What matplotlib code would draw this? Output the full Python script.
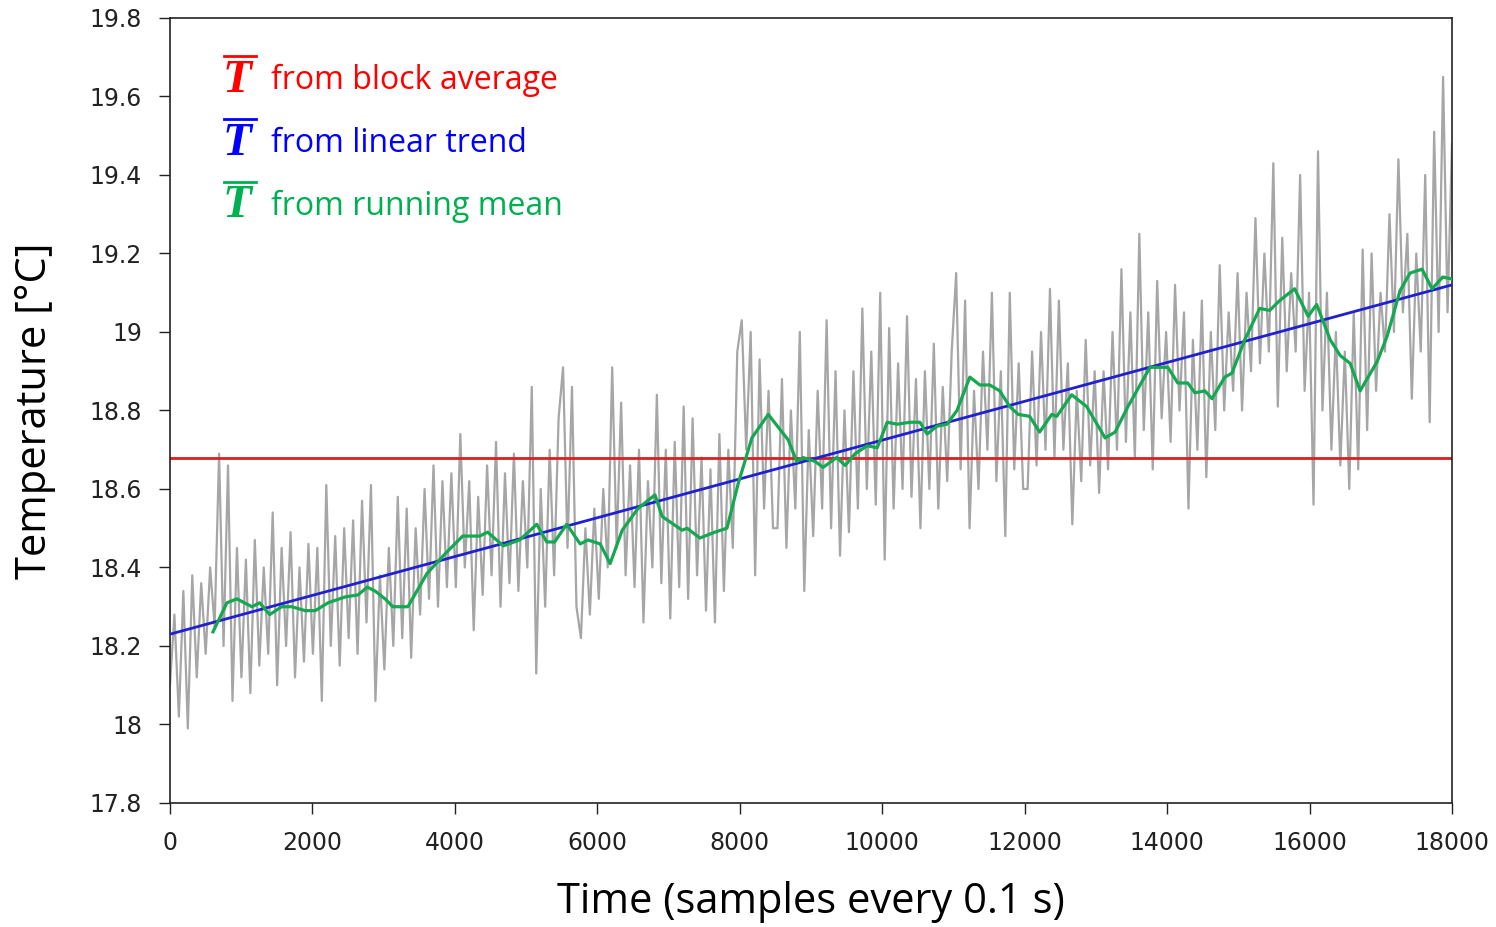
import numpy as np
import matplotlib.pyplot as plt
from matplotlib.lines import Line2D

# raw temperature record, 8 readings per 500-sample block (0 ... 18000)
raw_temp = [
    18.10, 18.28, 18.02, 18.34, 17.99, 18.38, 18.12, 18.36,
    18.18, 18.40, 18.25, 18.69, 18.20, 18.66, 18.06, 18.45,
    18.12, 18.42, 18.08, 18.47, 18.15, 18.40, 18.18, 18.54,
    18.10, 18.45, 18.20, 18.49, 18.12, 18.40, 18.16, 18.46,
    18.18, 18.45, 18.06, 18.61, 18.20, 18.48, 18.15, 18.50,
    18.22, 18.52, 18.18, 18.57, 18.26, 18.61, 18.06, 18.38,
    18.14, 18.45, 18.20, 18.58, 18.22, 18.55, 18.17, 18.50,
    18.28, 18.60, 18.32, 18.66, 18.30, 18.62, 18.35, 18.64,
    18.35, 18.74, 18.40, 18.62, 18.24, 18.58, 18.33, 18.66,
    18.38, 18.72, 18.30, 18.64, 18.36, 18.69, 18.34, 18.62,
    18.40, 18.86, 18.13, 18.60, 18.30, 18.70, 18.38, 18.78,
    18.91, 18.45, 18.86, 18.30, 18.22, 18.50, 18.28, 18.55,
    18.32, 18.60, 18.40, 18.91, 18.45, 18.82, 18.38, 18.66,
    18.35, 18.70, 18.26, 18.62, 18.40, 18.84, 18.36, 18.70,
    18.27, 18.72, 18.35, 18.81, 18.32, 18.78, 18.38, 18.68,
    18.29, 18.65, 18.26, 18.74, 18.34, 18.70, 18.45, 18.95,
    19.03, 18.70, 19.00, 18.38, 18.93, 18.55, 18.85, 18.50,
    18.50, 18.88, 18.45, 18.80, 18.55, 19.00, 18.34, 18.75,
    18.48, 18.85, 18.55, 19.03, 18.50, 18.90, 18.43, 18.80,
    18.49, 18.90, 18.55, 19.06, 18.60, 18.95, 18.56, 19.10,
    18.42, 19.01, 18.55, 18.92, 18.60, 19.04, 18.58, 18.88,
    18.50, 18.90, 18.60, 18.97, 18.55, 18.86, 18.62, 18.95,
    19.15, 18.65, 19.08, 18.50, 18.85, 18.60, 18.95, 18.70,
    19.10, 18.62, 18.90, 18.48, 19.10, 18.65, 18.92, 18.60,
    18.60, 18.95, 18.66, 19.00, 18.70, 19.11, 18.68, 19.08,
    18.70, 18.92, 18.51, 18.85, 18.62, 18.98, 18.66, 18.90,
    18.59, 18.90, 18.65, 19.00, 18.70, 19.16, 18.72, 19.05,
    18.68, 19.25, 18.75, 19.05, 18.65, 19.13, 18.78, 19.00,
    18.72, 19.12, 18.80, 19.05, 18.55, 18.98, 18.70, 19.08,
    18.63, 19.00, 18.75, 19.17, 18.80, 19.05, 18.85, 19.15,
    18.80, 19.10, 18.90, 19.29, 18.92, 19.20, 18.95, 19.43,
    18.81, 19.24, 18.90, 19.15, 18.95, 19.40, 18.85, 19.10,
    18.56, 19.46, 18.80, 19.10, 18.70, 19.00, 18.66, 18.95,
    18.60, 19.05, 18.65, 19.21, 18.75, 19.20, 18.85, 19.10,
    18.95, 19.30, 19.00, 19.44, 19.05, 19.25, 18.83, 19.20,
    18.95, 19.40, 18.77, 19.51, 19.00, 19.65, 19.05, 19.48,
]

# running mean (sample index, temperature)
run_x = [604, 800, 940, 1150, 1260, 1400, 1570, 1710, 1900, 2040, 2220, 2460,
         2640, 2770, 2880, 3020, 3130, 3340, 3610, 3890, 4110, 4350, 4460, 4680,
         4910, 5150, 5290, 5400, 5570, 5760, 5870, 6040, 6180, 6350, 6570, 6810,
         6910, 7190, 7260, 7440, 7650, 7820, 7980, 8170, 8400, 8680, 8800, 8890,
         9060, 9170, 9360, 9480, 9620, 9790, 9930, 10070, 10210, 10390, 10530,
         10630, 10770, 10910, 11050, 11230, 11370, 11510, 11650, 11790, 11910,
         12070, 12210, 12380, 12450, 12660, 12870, 13130, 13270, 13450, 13760,
         13870, 14010, 14150, 14290, 14390, 14530, 14630, 14810, 14910, 15090,
         15300, 15440, 15580, 15790, 15980, 16100, 16290, 16430, 16570, 16710,
         16950, 17090, 17270, 17410, 17580, 17720, 17870, 18000]
run_t = [18.236, 18.31, 18.32, 18.30, 18.31, 18.28, 18.30, 18.30, 18.29, 18.29,
         18.31, 18.325, 18.33, 18.35, 18.34, 18.32, 18.30, 18.30, 18.385, 18.44,
         18.48, 18.48, 18.49, 18.455, 18.47, 18.51, 18.465, 18.465, 18.51, 18.46,
         18.47, 18.46, 18.41, 18.495, 18.55, 18.585, 18.53, 18.495, 18.50, 18.475,
         18.49, 18.50, 18.615, 18.73, 18.79, 18.725, 18.67, 18.68, 18.67, 18.655,
         18.68, 18.66, 18.69, 18.71, 18.705, 18.77, 18.765, 18.77, 18.77, 18.74,
         18.76, 18.765, 18.80, 18.885, 18.865, 18.865, 18.85, 18.81, 18.79,
         18.785, 18.745, 18.79, 18.785, 18.84, 18.81, 18.73, 18.745, 18.81, 18.91,
         18.91, 18.91, 18.87, 18.87, 18.845, 18.85, 18.83, 18.885, 18.895, 18.98,
         19.06, 19.055, 19.08, 19.11, 19.04, 19.07, 18.98, 18.94, 18.92, 18.85,
         18.925, 18.99, 19.105, 19.15, 19.16, 19.11, 19.14, 19.135]

# linear trend end points and block average
trend_x = [0, 18000]
trend_t = [18.23, 19.12]
block_mean = 18.68

n_samples = 18000
raw_x = np.linspace(0, n_samples, len(raw_temp))

fig = plt.figure(figsize=(14.96, 9.27), dpi=100)
ax = fig.add_axes([0.1136, 0.1338, 0.857, 0.8468])

ax.plot(raw_x, raw_temp, color="#a6a6a6", lw=1.6, zorder=1)
ax.axhline(block_mean, color="#d92020", lw=2, zorder=2)
ax.plot(trend_x, trend_t, color="#2020d0", lw=2, zorder=3)
ax.plot(run_x, run_t, color="#14a850", lw=2.3, zorder=4)

ax.set_xlim(0, 18000)
ax.set_ylim(17.8, 19.8)
ax.set_xticks(np.arange(0, 18001, 2000))
ax.set_yticks(np.arange(17.8, 19.81, 0.2))
ax.set_yticklabels(["17.8", "18", "18.2", "18.4", "18.6", "18.8",
                    "19", "19.2", "19.4", "19.6", "19.8"])
ax.tick_params(direction="out", length=8, width=1, labelsize=17,
               colors="#222222", pad=12)
for s in ax.spines.values():
    s.set_color("#222222")
    s.set_linewidth(1.2)

ax.set_xlabel("Time (samples every 0.1 s)", fontsize=30, family="Open Sans",
              labelpad=19)
ax.set_ylabel("Temperature [°C]", fontsize=30, family="Open Sans", labelpad=24)

# legend: overlined T in each colour
entries = [("from block average", "#ff0000"),
           ("from linear trend", "#0000ff"),
           ("from running mean", "#00b050")]
for i, (label, col) in enumerate(entries):
    y = 0.92 - i * 0.08
    ax.text(0.041, y, "T", transform=ax.transAxes, color=col, fontsize=34,
            family="Liberation Serif", weight="bold", style="italic",
            va="center", ha="left")
    ax.add_line(Line2D([0.042, 0.067], [y + 0.031, y + 0.031],
                       transform=ax.transAxes, color=col, lw=2))
    ax.text(0.079, y, label, transform=ax.transAxes, color=col, fontsize=23,
            family="Open Sans", va="center", ha="left")

fig.savefig("out.png", dpi=100)
